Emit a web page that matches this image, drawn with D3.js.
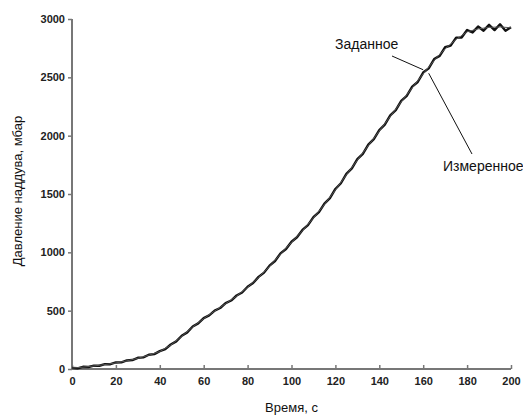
<!DOCTYPE html>
<html>
<head>
<meta charset="utf-8">
<script src="https://cdn.jsdelivr.net/npm/d3@7"></script>
<style>
  body { margin: 0; background: #fff; }
  svg { display: block; font-family: "Liberation Sans", Arial, sans-serif; }
</style>
</head>
<body>
<div id="chart"></div>
<script>
// Set pressure (every 5 s)
const setTimes = d3.range(0, 201, 5);
const setValues = [8, 16, 26, 38, 52, 70, 92, 118, 150, 205, 280, 360, 432, 497, 560, 625,
  700, 785, 880, 985, 1085, 1185, 1295, 1410, 1535, 1665, 1790, 1915, 2040, 2165, 2290,
  2410, 2530, 2645, 2745, 2825, 2890, 2915, 2928, 2932, 2925];

// Measured pressure (every 2.5 s)
const measTimes = d3.range(0, 200.1, 2.5);
const measValues = [10, 6, 19, 17, 29, 28, 42, 41, 56, 57, 73, 77, 96, 100, 122, 128,
  153, 170, 210, 237, 285, 314, 364, 391, 436, 460, 501, 523, 565, 587, 630, 656,
  705, 737, 790, 826, 886, 926, 991, 1029, 1091, 1129, 1192, 1233, 1302, 1345, 1418, 1464,
  1543, 1592, 1673, 1720, 1798, 1844, 1923, 1970, 2048, 2094, 2174, 2219, 2299, 2341, 2420, 2460,
  2541, 2577, 2657, 2684, 2758, 2772, 2840, 2842, 2905, 2885, 2935, 2900, 2950, 2905, 2955, 2900, 2930];

const xTicks = [0, 20, 40, 60, 80, 100, 120, 140, 160, 180, 200];
const yTicks = [0, 500, 1000, 1500, 2000, 2500, 3000];

const width = 523, height = 416;
const svg = d3.select("#chart").append("svg")
  .attr("width", width).attr("height", height);

const x = d3.scaleLinear().domain([0, 200]).range([72, 511]);
const y = d3.scaleLinear().domain([0, 3000]).range([369, 19]);

// Axes
const xAxis = svg.append("g")
  .attr("transform", `translate(0,${y(0)})`)
  .call(d3.axisBottom(x).tickValues(xTicks).tickFormat(d3.format("d")).tickSize(-4).tickPadding(8));
const yAxis = svg.append("g")
  .attr("transform", `translate(${x(0)},0)`)
  .call(d3.axisLeft(y).tickValues(yTicks).tickFormat(d3.format("d")).tickSize(4).tickPadding(3));

[xAxis, yAxis].forEach(a => {
  a.select(".domain").attr("stroke", "#777").attr("stroke-width", 2);
  a.selectAll(".tick line").attr("stroke", "#777").attr("stroke-width", 1.5);
  a.selectAll(".tick text")
    .attr("fill", "#222")
    .attr("font-size", 11)
    .attr("font-weight", "bold")
    .attr("font-family", "'Liberation Sans', Arial, sans-serif");
});
xAxis.select(".domain").attr("d", `M${x(0)},0H${x(200)}`);
yAxis.select(".domain").attr("d", `M0,${y(0)}V${y(3000)}`);

// Curves
const line = d3.line().x(d => x(d[0])).y(d => y(d[1]));

svg.append("path")
  .datum(measTimes.map((t, i) => [t, measValues[i]]))
  .attr("fill", "none")
  .attr("stroke", "#111")
  .attr("stroke-width", 2.4)
  .attr("stroke-linejoin", "round")
  .attr("d", line);

svg.append("path")
  .datum(setTimes.map((t, i) => [t, setValues[i]]))
  .attr("fill", "none")
  .attr("stroke", "#555")
  .attr("stroke-width", 1)
  .attr("d", line);

// Annotations
svg.append("text").attr("x", 335).attr("y", 49)
  .attr("font-size", 14).attr("fill", "#111").text("Заданное");
svg.append("line")
  .attr("x1", 392).attr("y1", 56).attr("x2", x(160)).attr("y2", y(2565))
  .attr("stroke", "#111").attr("stroke-width", 1);

svg.append("text").attr("x", 443).attr("y", 171)
  .attr("font-size", 14).attr("fill", "#111").text("Измеренное");
svg.append("line")
  .attr("x1", 472).attr("y1", 154).attr("x2", x(162.5)).attr("y2", y(2535))
  .attr("stroke", "#111").attr("stroke-width", 1);

// Axis titles
svg.append("text")
  .attr("x", (x(0) + x(200)) / 2).attr("y", 412)
  .attr("text-anchor", "middle").attr("font-size", 13).attr("fill", "#111")
  .text("Время, с");
svg.append("text")
  .attr("transform", "translate(22,191) rotate(-90)")
  .attr("text-anchor", "middle").attr("font-size", 13).attr("fill", "#111")
  .text("Давление наддува, мбар");
</script>
</body>
</html>
